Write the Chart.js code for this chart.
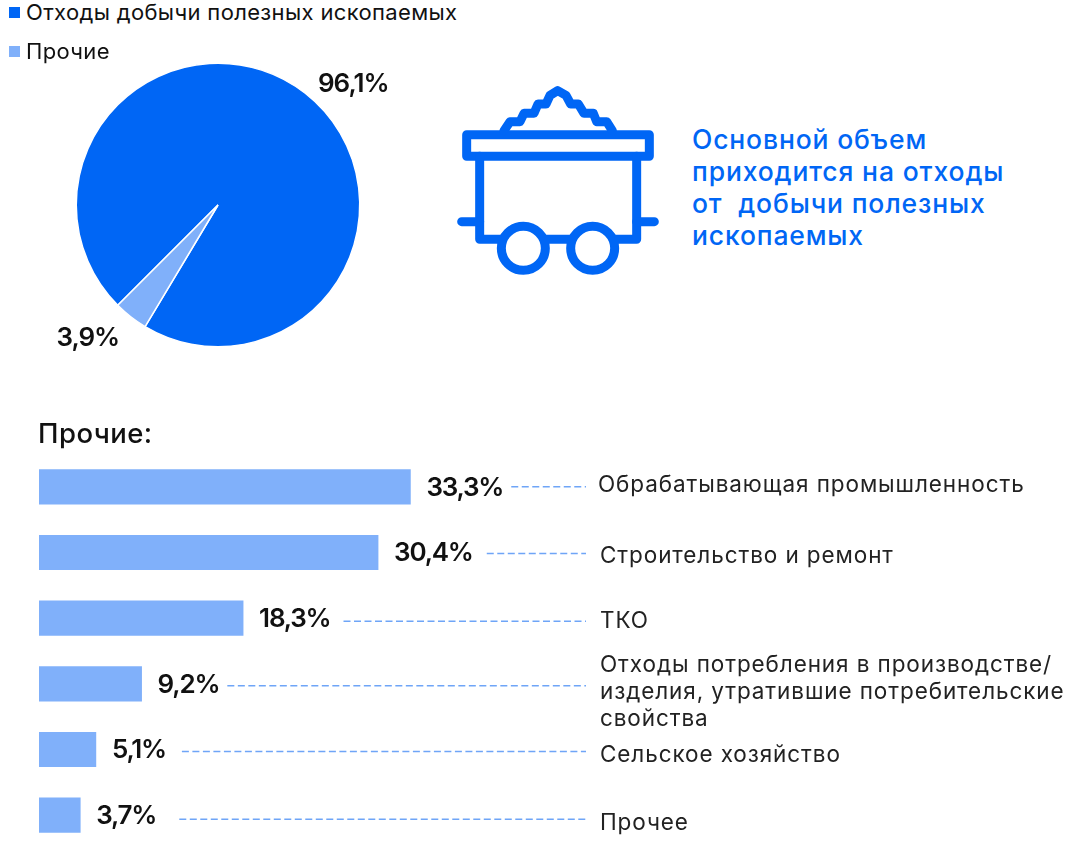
<!DOCTYPE html>
<html lang="ru">
<head>
<meta charset="utf-8">
<script src="https://cdn.jsdelivr.net/npm/chart.js@4"></script>
<style>
html,body{margin:0;padding:0;width:1071px;height:844px;overflow:hidden;background:#fff;font-family:Inter,"Noto Sans",sans-serif;color:#111}
canvas{position:absolute;display:block}
.t{position:absolute;white-space:pre;line-height:1}
.sw{position:absolute;width:11px;height:11px}
#icon{position:absolute;left:440px;top:70px}
</style>
</head>
<body>
<canvas id="pie" width="436" height="300" style="left:0;top:55px;width:436px;height:300px"></canvas>
<canvas id="bars" width="1071" height="404" style="left:0;top:444px;width:1071px;height:404px"></canvas>
<div id="legend"></div>
<svg id="icon" width="240" height="220" viewBox="0 0 720 660" fill="none" stroke="#0066F5" stroke-width="27" stroke-linejoin="round" stroke-linecap="round">
<rect x="80" y="194" width="548" height="65"/>
<path d="M119 259V508H184M316 508H392M524 508H590V259"/>
<circle cx="250" cy="535" r="66"/><circle cx="458" cy="535" r="66"/>
<path d="M65 455H119M590 455H643"/>
<path d="M192 182L210 155H240L252 130H282L294 102H318L330 76L353 62L378 76L392 102H415L432 130H460L470 155H500L517 182"/>
</svg>
<div class="t" style="left:692px;top:123px;font-size:26.5px;line-height:32px;font-weight:500;color:#0066F5;letter-spacing:.85px">Основной объем
приходится на отходы
от  добычи полезных
ископаемых</div>
<div class="t" style="left:38px;top:420px;font-size:27.5px;font-weight:500;color:#111;letter-spacing:.45px">Прочие:</div>
<script>
const pieCategories = ["Отходы добычи полезных ископаемых", "Прочие"];
const pieValues = [96.1, 3.9];
const pieLabels = ["96,1%", "3,9%"];
const barCategories = [
  ["Обрабатывающая промышленность"],
  ["Строительство и ремонт"],
  ["ТКО"],
  ["Отходы потребления в производстве/", "изделия, утратившие потребительские", "свойства"],
  ["Сельское хозяйство"],
  ["Прочее"]
];
const barValues = [33.3, 30.4, 18.3, 9.2, 5.1, 3.7];
const barLabels = ["33,3%", "30,4%", "18,3%", "9,2%", "5,1%", "3,7%"];

const DARK = "#0066F5", LIGHT = "#80B0FA", INK = "#111";
const FONT = 'Inter, "Noto Sans", sans-serif';
const pieLabelShift = [[48, -9], [-43, 21]];
const catNudgeY = [-2, 4, 3, 8, 6, 8];
const catNudgeX = [-2, 0, 0, 0, 0, 0];
const leaderNudgeY = [0, 1, 3, 2, 2, 4];
const leaderGap = [8, 14, 13, 8, 16, 23];

pieCategories.forEach((c, i) => {
  const top = [7, 46][i];
  const sw = document.createElement("div");
  sw.className = "sw"; sw.style.cssText = `left:9px;top:${top}px;background:${i ? LIGHT : DARK}`;
  const t = document.createElement("div");
  t.className = "t"; t.textContent = c;
  t.style.cssText = `left:26px;top:${top - 6}px;font-size:22px;letter-spacing:.35px`;
  document.getElementById("legend").append(sw, t);
});

new Chart(document.getElementById("pie"), {
  type: "pie",
  data: { labels: pieCategories, datasets: [{ data: pieValues, backgroundColor: [DARK, LIGHT], borderColor: "#fff", borderWidth: 1.5, hoverOffset: 0 }] },
  options: {
    responsive: false, animation: false, rotation: 225,
    layout: { padding: 7.5 },
    plugins: { legend: { display: false }, tooltip: { enabled: false } }
  },
  plugins: [{
    id: "pieLabels",
    afterDraw(chart) {
      const ctx = chart.ctx;
      chart.getDatasetMeta(0).data.forEach((a, i) => {
        const mid = (a.startAngle + a.endAngle) / 2;
        const x = a.x + Math.cos(mid) * a.outerRadius + pieLabelShift[i][0];
        const y = a.y + Math.sin(mid) * a.outerRadius + pieLabelShift[i][1];
        ctx.save();
        ctx.font = `600 26px ${FONT}`; ctx.fillStyle = INK;
        ctx.letterSpacing = "-1px";
        ctx.textAlign = "center"; ctx.textBaseline = "middle";
        ctx.fillText(pieLabels[i], x, y);
        ctx.restore();
      });
    }
  }]
});

new Chart(document.getElementById("bars"), {
  type: "bar",
  data: { labels: barCategories, datasets: [{ data: barValues, backgroundColor: LIGHT, barThickness: 34.5 }] },
  options: {
    indexAxis: "y", responsive: false, animation: false,
    layout: { padding: { left: 39, right: 481, top: 10, bottom: 0 } },
    scales: { x: { display: false, min: 0, max: 49.4 }, y: { display: false } },
    plugins: { legend: { display: false }, tooltip: { enabled: false } }
  },
  plugins: [{
    id: "barText",
    afterDraw(chart) {
      const ctx = chart.ctx;
      chart.getDatasetMeta(0).data.forEach((b, i) => {
        ctx.save();
        ctx.fillStyle = INK; ctx.textBaseline = "middle"; ctx.textAlign = "left";
        ctx.font = `600 26px ${FONT}`; ctx.letterSpacing = "-1.2px";
        const vx = b.x + 16;
        ctx.fillText(barLabels[i], vx, b.y + 1);
        const end = vx + ctx.measureText(barLabels[i]).width + leaderGap[i];
        ctx.restore();

        ctx.save();
        ctx.strokeStyle = "#6FA5F7"; ctx.lineWidth = 1.5; ctx.setLineDash([7, 3.5]);
        ctx.beginPath();
        ctx.moveTo(end, b.y + leaderNudgeY[i]);
        ctx.lineTo(586, b.y + leaderNudgeY[i]);
        ctx.stroke();
        ctx.restore();

        ctx.save();
        ctx.fillStyle = "#222"; ctx.textBaseline = "middle"; ctx.textAlign = "left";
        ctx.font = `400 22.5px ${FONT}`; ctx.letterSpacing = "0.9px";
        const lines = barCategories[i];
        lines.forEach((ln, k) => {
          ctx.fillText(ln, 600 + catNudgeX[i], b.y + catNudgeY[i] + (k - (lines.length - 1) / 2) * 27);
        });
        ctx.restore();
      });
    }
  }]
});
</script>
</body>
</html>
